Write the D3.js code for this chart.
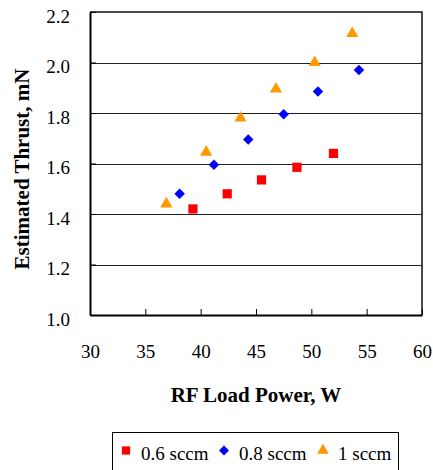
<!DOCTYPE html>
<html>
<head>
<meta charset="utf-8">
<script src="https://cdn.jsdelivr.net/npm/d3@7"></script>
<style>
  body { margin: 0; background: #fff; }
  text { font-family: "Liberation Serif", "Times New Roman", serif; }
</style>
</head>
<body>
<div class="container"></div>
<script>
// values
const seriesNames = ['0.6 sccm', '0.8 sccm', '1 sccm'];
const power06 = [39.3, 42.4, 45.5, 48.7, 52.0];
const thrust06 = [1.42, 1.48, 1.535, 1.585, 1.64];
const power08 = [38.1, 41.2, 44.3, 47.5, 50.6, 54.3];
const thrust08 = [1.48, 1.595, 1.695, 1.795, 1.885, 1.97];
const power10 = [36.9, 40.5, 43.6, 46.8, 50.3, 53.7];
const thrust10 = [1.44, 1.645, 1.78, 1.895, 2.0, 2.115];
const xTicks = [30, 35, 40, 45, 50, 55, 60];
const yTicks = [1.0, 1.2, 1.4, 1.6, 1.8, 2.0, 2.2];

const width = 433, height = 470;
const plotLeft = 90, plotRight = 422, plotTop = 12, plotBottom = 315;

const svg = d3.select('.container')
  .append('svg')
  .attr('width', width)
  .attr('height', height);

const xScale = d3.scaleLinear().domain([30, 60]).range([plotLeft, plotRight]);
const yScale = d3.scaleLinear().domain([1.0, 2.2]).range([plotBottom, plotTop]);

// gridlines
svg.append('g')
  .selectAll('line')
  .data(yTicks.slice(1, -1))
  .enter()
  .append('line')
  .attr('x1', plotLeft).attr('x2', plotRight)
  .attr('y1', d => Math.round(yScale(d)) + 0.5).attr('y2', d => Math.round(yScale(d)) + 0.5)
  .attr('stroke', '#222')
  .attr('stroke-width', 1);

// plot frame (top + right)
svg.append('path')
  .attr('d', `M${plotLeft},${plotTop}H${plotRight}V${plotBottom}`)
  .attr('fill', 'none')
  .attr('stroke', '#111')
  .attr('stroke-width', 1.5);

// x axis
const xAxis = d3.axisBottom(xScale).tickValues(xTicks).tickSizeInner(-6).tickSizeOuter(0).tickFormat(d3.format('d'));
const gx = svg.append('g')
  .attr('transform', `translate(0, ${plotBottom})`)
  .call(xAxis);
gx.select('.domain').attr('stroke', '#000').attr('stroke-width', 2);
gx.selectAll('.tick line').attr('stroke', '#000');
gx.selectAll('.tick text')
  .attr('y', 43)
  .attr('dy', 0)
  .style('font-family', '"Liberation Serif", serif')
  .style('font-size', '19px')
  .attr('fill', '#000');

// y axis
const yAxis = d3.axisLeft(yScale).tickValues(yTicks).tickSizeInner(-6).tickSizeOuter(0).tickPadding(20).tickFormat(d3.format('.1f'));
const gy = svg.append('g')
  .attr('transform', `translate(${plotLeft}, 0)`)
  .call(yAxis);
gy.select('.domain').attr('stroke', '#000').attr('stroke-width', 2);
gy.selectAll('.tick line').attr('stroke', '#000');
gy.selectAll('.tick text')
  .attr('dy', '0.55em')
  .style('font-family', '"Liberation Serif", serif')
  .style('font-size', '19px')
  .attr('fill', '#000');

// axis titles
svg.append('text')
  .attr('x', (plotLeft + plotRight) / 2)
  .attr('y', 402)
  .attr('text-anchor', 'middle')
  .style('font-size', '21px')
  .style('font-weight', 'bold')
  .text('RF Load Power, W');

svg.append('text')
  .attr('transform', 'translate(29, 169) rotate(-90)')
  .attr('text-anchor', 'middle')
  .style('font-size', '21px')
  .style('font-weight', 'bold')
  .text('Estimated Thrust, mN');

// markers
const sym = {
  square: d3.symbol().type(d3.symbolSquare).size(85),
  diamond: d3.symbol().type(d3.symbolSquare).size(55),
  triangle: d3.symbol().type(d3.symbolTriangle).size(65)
};

const series = [
  { name: seriesNames[0], xs: power06, ys: thrust06, color: '#ff0000', shape: 'square' },
  { name: seriesNames[1], xs: power08, ys: thrust08, color: '#0000ff', shape: 'diamond' },
  { name: seriesNames[2], xs: power10, ys: thrust10, color: '#ff9900', shape: 'triangle' }
];

const rot = s => s === 'diamond' ? ' rotate(45)' : '';

series.forEach(s => {
  svg.append('g')
    .selectAll('path')
    .data(s.xs.map((x, i) => [x, s.ys[i]]))
    .enter()
    .append('path')
    .attr('d', sym[s.shape]())
    .attr('transform', d => `translate(${xScale(d[0])}, ${yScale(d[1])})${rot(s.shape)}`)
    .attr('fill', s.color);
});

// legend
const legend = svg.append('g');
legend.append('rect')
  .attr('x', 112.5).attr('y', 432.5)
  .attr('width', 286).attr('height', 45)
  .attr('fill', '#fff')
  .attr('stroke', '#000')
  .attr('stroke-width', 1);

const small = {
  square: d3.symbol().type(d3.symbolSquare).size(68),
  diamond: d3.symbol().type(d3.symbolSquare).size(48),
  triangle: d3.symbol().type(d3.symbolTriangle).size(58)
};
const legendX = [126, 224, 323];
series.forEach((s, i) => {
  legend.append('path')
    .attr('d', small[s.shape]())
    .attr('transform', `translate(${legendX[i]}, 450.5)${rot(s.shape)}`)
    .attr('fill', s.color);
  legend.append('text')
    .attr('x', legendX[i] + 15)
    .attr('y', 460)
    .style('font-size', '19px')
    .text(s.name);
});
</script>
</body>
</html>
